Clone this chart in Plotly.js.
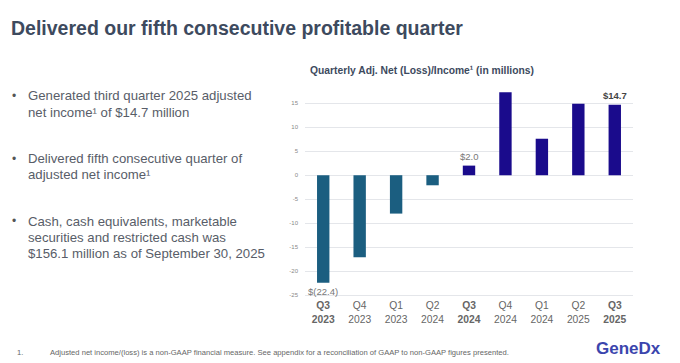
<!DOCTYPE html>
<html><head><meta charset="utf-8">
<script src="https://cdn.plot.ly/plotly-3.0.1.min.js"></script>
<style>html,body{margin:0;padding:0;background:#fff;}#c{width:680px;height:363px;}</style>
</head><body><div id="c"></div>
<script>
const quarters = ["Q3","Q4","Q1","Q2","Q3","Q4","Q1","Q2","Q3"];
const years = ["2023","2023","2023","2024","2024","2024","2024","2025","2025"];
const highlight = [true,false,false,false,true,false,false,false,true];
const values = [-22.4,-17.1,-8.0,-2.1,2.0,17.3,7.6,14.9,14.7];
const valueLabels = ["$(22.4)","","","","$2.0","","","","$14.7"];
const yTicks = [-25,-20,-15,-10,-5,0,5,10,15];

const W=680,H=363, L=305, R=47, T=85, B=64;
const pw=W-L-R, ph=H-T-B;
const px = x => (x-L)/pw;
const py = y => (H-B-y)/ph;

const cats = quarters.map((q,i)=>"c"+i);
const tickText = quarters.map((q,i)=> highlight[i] ? "<b>"+q+"<br>"+years[i]+"</b>" : q+"<br>"+years[i]);
const colors = values.map(v=> v<0 ? "#1b5e80" : "#1a0b8c");

const annotations = [];
values.forEach((v,i)=>{
  if(!valueLabels[i]) return;
  const bold = i===values.length-1;
  annotations.push({x:cats[i], y:v, xref:"x", yref:"y", text: bold? "<b>"+valueLabels[i]+"</b>" : valueLabels[i],
    showarrow:false, yanchor: v<0?"top":"bottom", yshift: v<0?-1:2,
    font:{family:"Liberation Sans, Arial", size:9.5, color: bold?"#444":"#777"}});
});
const slideFont = "Liberation Sans, Arial";
annotations.push({xref:"paper",yref:"paper",x:px(9),y:py(28),xanchor:"left",yanchor:"middle",showarrow:false,
  text:"<b>Delivered our fifth consecutive profitable quarter</b>", font:{family:slideFont,size:19.5,color:"#3d4a5e"}});
annotations.push({xref:"paper",yref:"paper",x:px(422),y:py(70),xanchor:"center",yanchor:"middle",showarrow:false,
  text:"<b>Quarterly Adj. Net (Loss)/Income¹ (in millions)</b>", font:{family:slideFont,size:10.3,color:"#3d4a5e"}});
const bullets = [
  {y:96, lines:["Generated third quarter 2025 adjusted","net income¹ of $14.7 million"]},
  {y:158.5, lines:["Delivered fifth consecutive quarter of","adjusted net income¹"]},
  {y:221, lines:["Cash, cash equivalents, marketable","securities and restricted cash was","$156.1 million as of September 30, 2025"]}
];
bullets.forEach(b=>{
  annotations.push({xref:"paper",yref:"paper",x:px(10),y:py(b.y),xanchor:"left",yanchor:"middle",showarrow:false,
    text:"•",font:{family:slideFont,size:12,color:"#555"}});
  b.lines.forEach((ln,j)=>{
    annotations.push({xref:"paper",yref:"paper",x:px(26),y:py(b.y+j*16.3),xanchor:"left",yanchor:"middle",showarrow:false,
      text:ln,font:{family:slideFont,size:13.2,color:"#585d68"}});
  });
});
annotations.push({xref:"paper",yref:"paper",x:px(15),y:py(352),xanchor:"left",yanchor:"middle",showarrow:false,
  text:"1.",font:{family:slideFont,size:7.6,color:"#666"}});
annotations.push({xref:"paper",yref:"paper",x:px(48),y:py(352),xanchor:"left",yanchor:"middle",showarrow:false,
  text:"Adjusted net income/(loss) is a non-GAAP financial measure. See appendix for a reconciliation of GAAP to non-GAAP figures presented.",
  font:{family:slideFont,size:7.6,color:"#666"}});
annotations.push({xref:"paper",yref:"paper",x:px(594),y:py(348),xanchor:"left",yanchor:"middle",showarrow:false,
  text:"<b>GeneDx</b>",font:{family:"Liberation Sans, Arial",size:17,color:"#3b45ad"}});

const trace = {type:"bar", x:cats, y:values, marker:{color:colors}, hoverinfo:"skip"};
const layout = {
  width:W, height:H, margin:{l:L,r:R,t:T,b:B,pad:0},
  paper_bgcolor:"#fff", plot_bgcolor:"#fff", showlegend:false, bargap:0.66,
  xaxis:{type:"category", tickvals:cats, ticktext:tickText, showgrid:false, zeroline:false, showline:false, ticks:"",
    tickfont:{family:slideFont,size:10.3,color:"#666"}, ticklabelstandoff:-1},
  yaxis:{range:[-25.8,18.8], tickvals:yTicks, ticktext:yTicks.map(String), showgrid:true, gridcolor:"#e4e6ea", gridwidth:1,
    zeroline:true, zerolinecolor:"#e4e6ea", zerolinewidth:1, showline:false, ticks:"",
    tickfont:{family:slideFont,size:6,color:"#888"}, ticklabelstandoff:6},
  annotations:annotations
};
Plotly.newPlot("c",[trace],layout,{displayModeBar:false,staticPlot:true});
</script></body></html>
